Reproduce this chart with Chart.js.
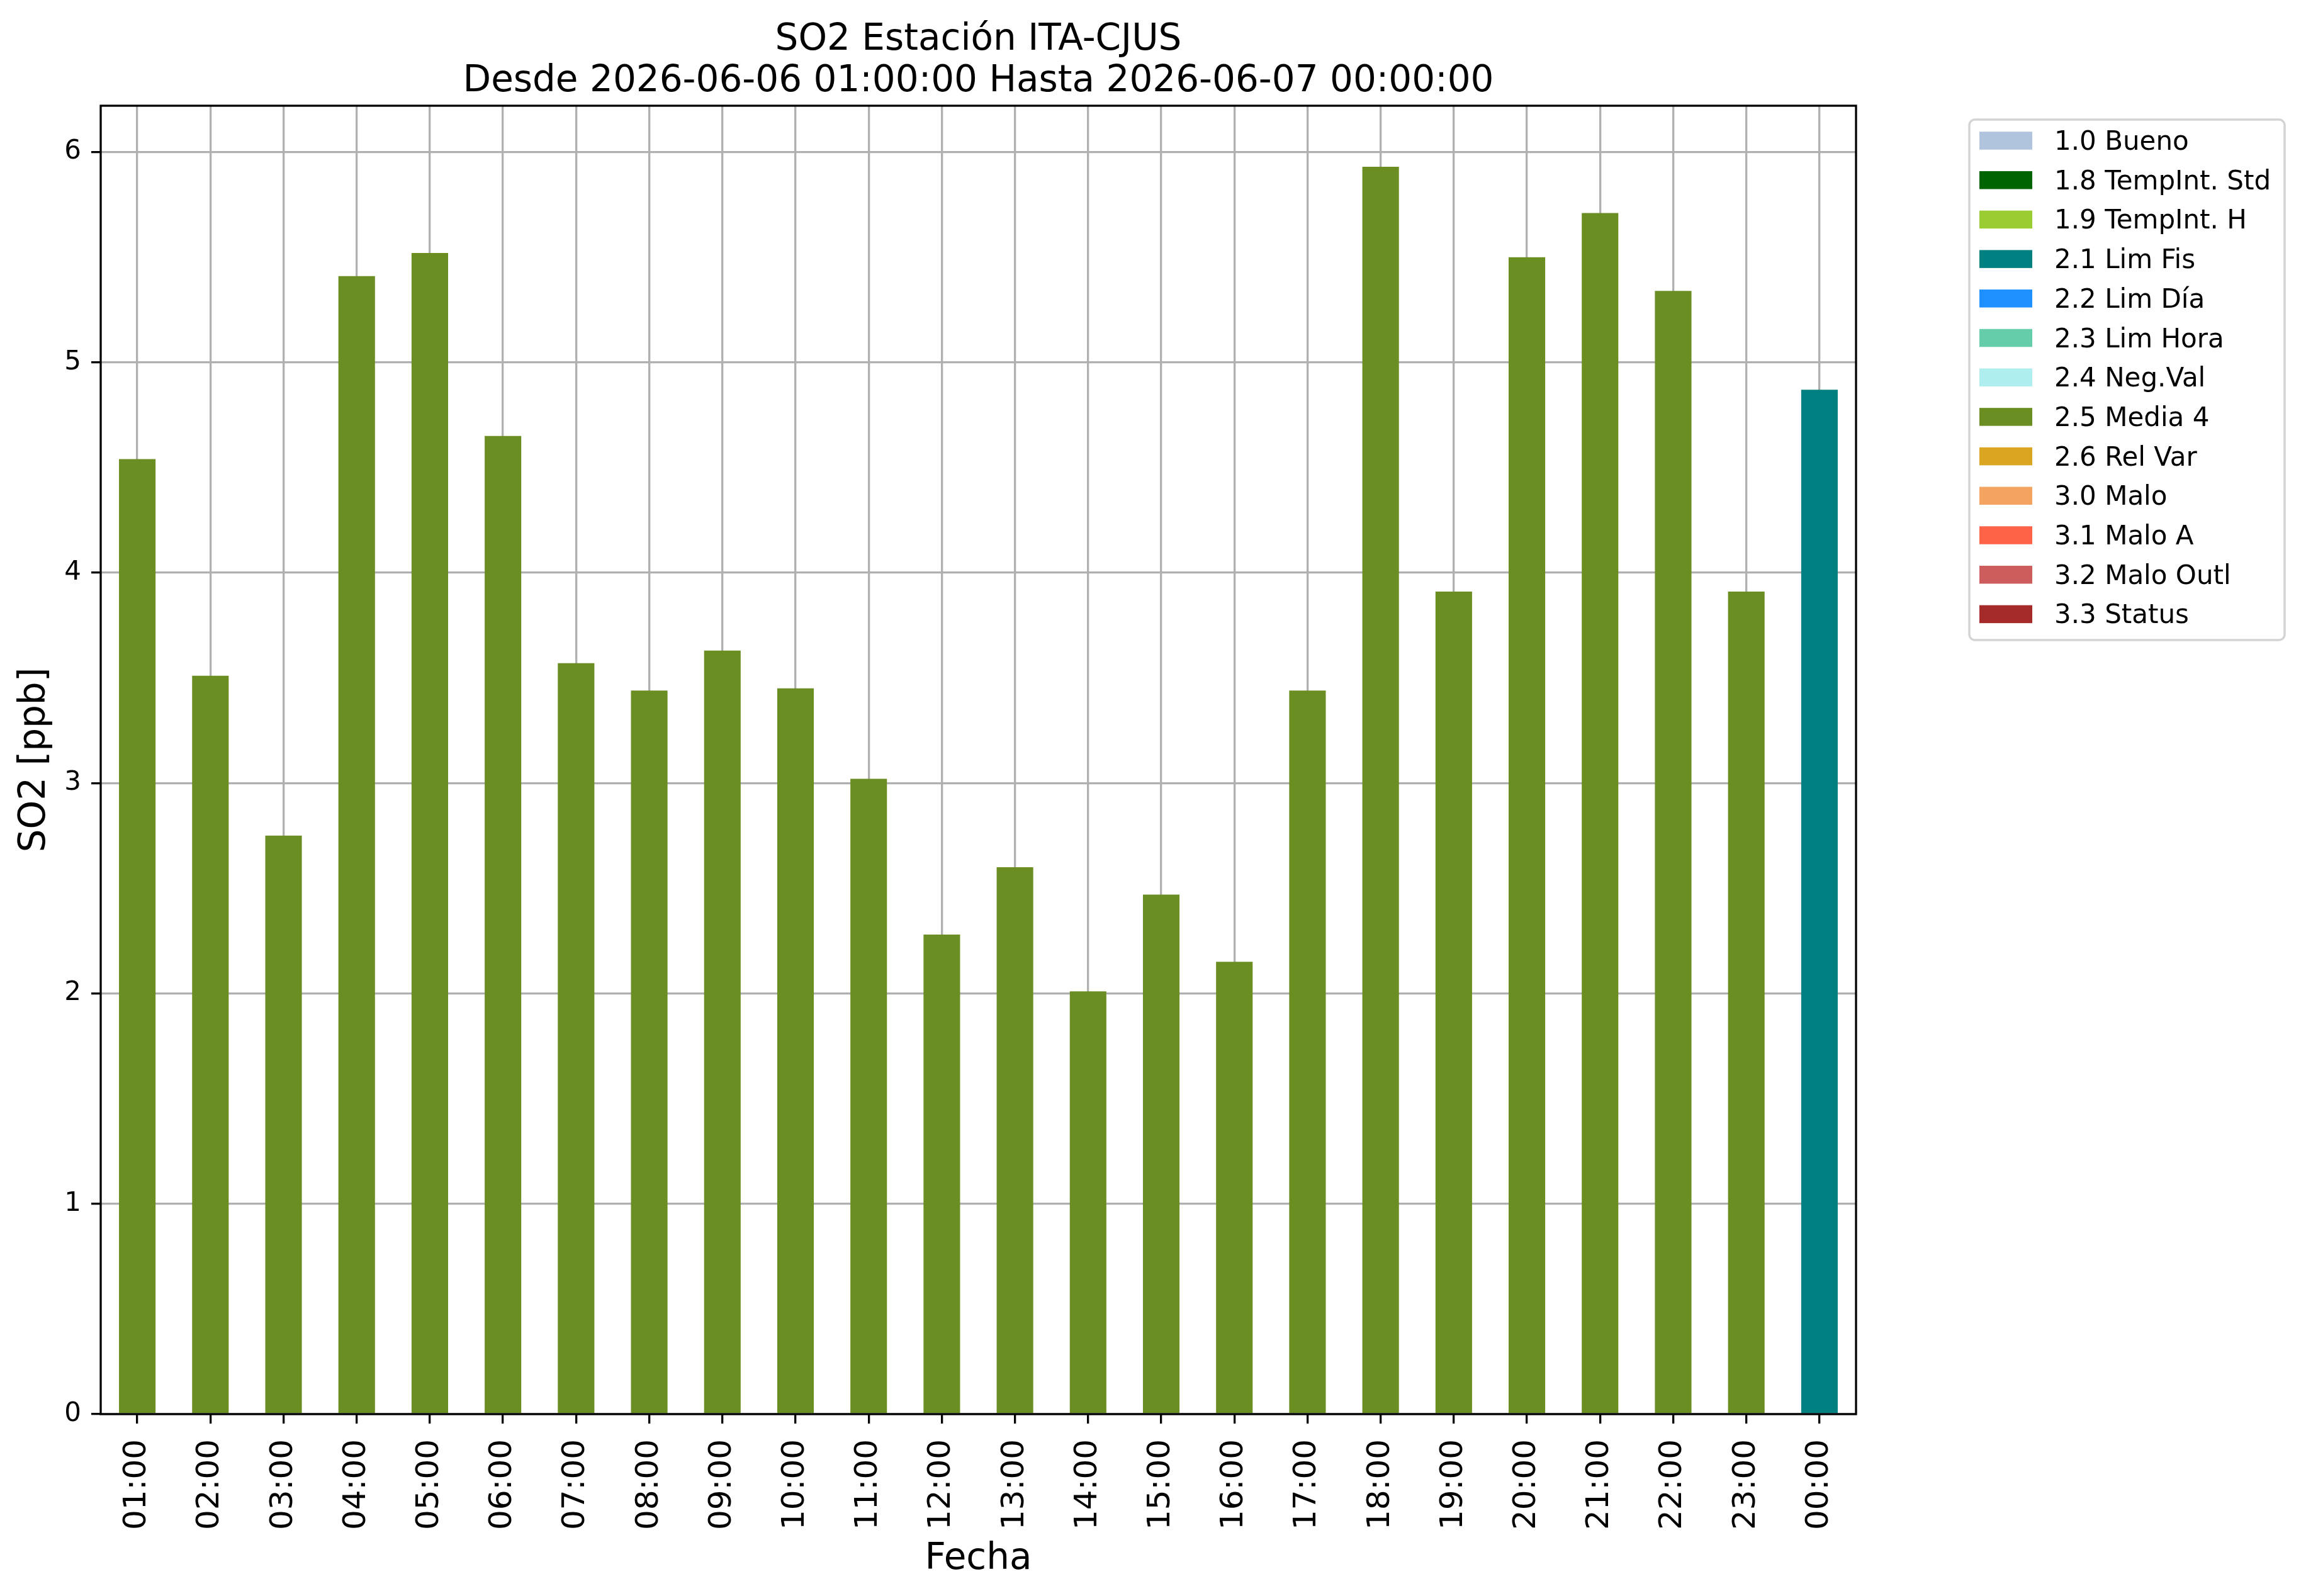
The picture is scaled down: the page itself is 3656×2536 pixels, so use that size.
<!DOCTYPE html>
<html>
<head>
<meta charset="utf-8">
<script src="https://cdn.jsdelivr.net/npm/chart.js@4.4.1/dist/chart.umd.min.js"></script>
<style>
  body { margin: 0; background: #fff; }
  canvas { display: block; }
</style>
</head>
<body>
<canvas id="chart" width="3656" height="2536"></canvas>
<script>
// hourly SO2 values and the validation flag of each hour
const hours = ['01:00', '02:00', '03:00', '04:00', '05:00', '06:00', '07:00', '08:00',
  '09:00', '10:00', '11:00', '12:00', '13:00', '14:00', '15:00', '16:00',
  '17:00', '18:00', '19:00', '20:00', '21:00', '22:00', '23:00', '00:00']
const so2 = [4.54, 3.51, 2.75, 5.41, 5.52, 4.65, 3.57, 3.44,
  3.63, 3.45, 3.02, 2.28, 2.60, 2.01, 2.47, 2.15,
  3.44, 5.93, 3.91, 5.50, 5.71, 5.34, 3.91, 4.87]
const flags = ['2.5 Media 4', '2.5 Media 4', '2.5 Media 4', '2.5 Media 4', '2.5 Media 4', '2.5 Media 4',
  '2.5 Media 4', '2.5 Media 4', '2.5 Media 4', '2.5 Media 4', '2.5 Media 4', '2.5 Media 4',
  '2.5 Media 4', '2.5 Media 4', '2.5 Media 4', '2.5 Media 4', '2.5 Media 4', '2.5 Media 4',
  '2.5 Media 4', '2.5 Media 4', '2.5 Media 4', '2.5 Media 4', '2.5 Media 4', '2.1 Lim Fis']

const flagLabels = ['1.0 Bueno', '1.8 TempInt. Std', '1.9 TempInt. H', '2.1 Lim Fis', '2.2 Lim Día',
  '2.3 Lim Hora', '2.4 Neg.Val', '2.5 Media 4', '2.6 Rel Var', '3.0 Malo', '3.1 Malo A',
  '3.2 Malo Outl', '3.3 Status']
const flagColors = ['#b0c4de', '#006400', '#9acd32', '#008080', '#1e90ff',
  '#66cdaa', '#afeeee', '#6b8e23', '#daa520', '#f4a460', '#ff6347',
  '#cd5c5c', '#a52a2a']

const yTicks = [0, 1, 2, 3, 4, 5, 6]
const yMax = 6.22

Chart.defaults.font.family = '"DejaVu Sans"'
Chart.defaults.color = '#000'

// one dataset per flag, stacked, so each bar takes the colour of its flag
const datasets = flagLabels.map((lab, i) => ({
  label: lab,
  data: so2.map((v, j) => flags[j] === lab ? v : null),
  backgroundColor: flagColors[i],
  borderWidth: 0,
  barPercentage: 0.5,
  categoryPercentage: 1.0
}))

// matplotlib style legend box at the right + full frame round the plot
const sideLegend = {
  id: 'sideLegend',
  afterDraw(chart) {
    const ctx = chart.ctx
    const a = chart.chartArea
    ctx.save()
    ctx.strokeStyle = '#000'
    ctx.lineWidth = 3.3
    ctx.strokeRect(a.left, a.top, a.right - a.left, a.bottom - a.top)

    ctx.beginPath()
    ctx.roundRect(3129, 190, 501, 827, 9)
    ctx.fillStyle = 'rgba(255,255,255,0.8)'
    ctx.fill()
    ctx.lineWidth = 3.5
    ctx.strokeStyle = '#d4d4d4'
    ctx.stroke()

    ctx.font = '42px "DejaVu Sans"'
    ctx.textBaseline = 'alphabetic'
    ctx.textAlign = 'left'
    chart.data.datasets.forEach((ds, i) => {
      const cy = 223.5 + i * 62.7
      ctx.fillStyle = ds.backgroundColor
      ctx.fillRect(3145, cy - 14.25, 84, 28.5)
      ctx.fillStyle = '#000'
      ctx.fillText(ds.label, 3264, cy + 14.5)
    })
    ctx.restore()
  }
}

const gridOpts = {
  color: '#b0b0b0',
  lineWidth: 3.3,
  tickLength: 15,
  tickColor: '#000',
  tickWidth: 3.3
}

new Chart(document.getElementById('chart'), {
  type: 'bar',
  data: { labels: hours, datasets: datasets },
  plugins: [sideLegend],
  options: {
    responsive: false,
    animation: false,
    devicePixelRatio: 1,
    layout: { padding: { left: 0, right: 707, top: 0, bottom: 0 } },
    plugins: {
      legend: { display: false },
      tooltip: { enabled: false },
      title: {
        display: true,
        fullSize: false,
        text: ['SO2 Estación ITA-CJUS', 'Desde 2026-06-06 01:00:00 Hasta 2026-06-07 00:00:00'],
        color: '#000',
        font: { size: 58, weight: 'normal', lineHeight: 66 / 58 },
        padding: { top: 31, bottom: 5 }
      }
    },
    scales: {
      x: {
        stacked: true,
        offset: true,
        z: 1,
        afterFit: s => { s.height = 289 },
        ticks: { font: { size: 50 }, color: '#000', maxRotation: 90, minRotation: 90, padding: 25, autoSkip: false },
        grid: Object.assign({ offset: false }, gridOpts),
        border: { display: false },
        title: { display: true, text: 'Fecha', color: '#000', font: { size: 58 }, padding: { top: 0, bottom: 23 } }
      },
      y: {
        stacked: true,
        min: 0,
        max: yMax,
        z: 1,
        afterBuildTicks: s => { s.ticks = yTicks.map(v => ({ value: v })) },
        afterFit: s => { s.width = 160 },
        ticks: { font: { size: 42 }, color: '#000', padding: 16 },
        grid: gridOpts,
        border: { display: false },
        title: { display: true, text: 'SO2 [ppb]', color: '#000', font: { size: 58 }, padding: { top: 21, bottom: 0 } }
      }
    }
  }
})
</script>
</body>
</html>
